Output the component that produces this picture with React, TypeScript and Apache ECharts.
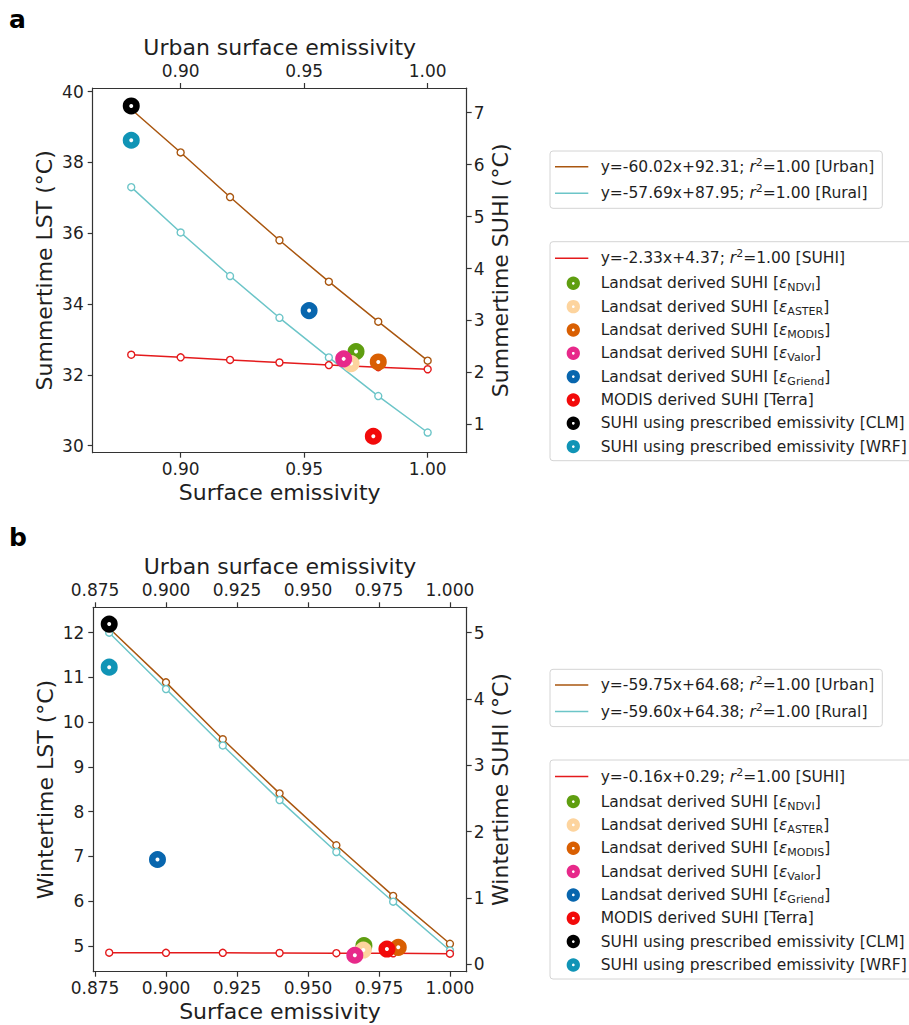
import React, { useEffect, useRef } from "react";
import * as echarts from "echarts";

const FONT = "DejaVu Sans";

// emissivity values used for the prescribed-emissivity experiments
const EMISS = [0.88, 0.9, 0.92, 0.94, 0.96, 0.98, 1.0];

// Panel a (summer)
const summerUrban = [39.5, 38.28, 37.02, 35.8, 34.63, 33.5, 32.4];
const summerRural = [37.3, 36.02, 34.79, 33.61, 32.49, 31.4, 30.37];
const summerSuhi = [2.34, 2.29, 2.24, 2.19, 2.14, 2.1, 2.06];
// [emissivity, SUHI] for each observation / model
const summerObs = [
  [0.971, 2.4],
  [0.969, 2.17],
  [0.98, 2.2],
  [0.966, 2.26],
  [0.952, 3.19],
  [0.978, 0.77],
  [0.88, 7.13],
  [0.88, 6.47],
];

// Panel b (winter)
const winterUrban = [12.1, 10.89, 9.62, 8.41, 7.25, 6.12, 5.05];
const winterRural = [12.0, 10.74, 9.48, 8.26, 7.1, 5.99, 4.9];
const winterSuhi = [0.175, 0.173, 0.172, 0.17, 0.168, 0.166, 0.16];
const winterObs = [
  [0.9697, 0.28],
  [0.9695, 0.215],
  [0.9818, 0.256],
  [0.9665, 0.136],
  [0.897, 1.58],
  [0.9778, 0.23],
  [0.88, 5.13],
  [0.88, 4.48],
];

// Tick values
const xTicksA = [0.9, 0.95, 1.0];
const xTicksB = [0.875, 0.9, 0.925, 0.95, 0.975, 1.0];
const yLeftTicksA = [30, 32, 34, 36, 38, 40];
const yRightTicksA = [1, 2, 3, 4, 5, 6, 7];
const yLeftTicksB = [5, 6, 7, 8, 9, 10, 11, 12];
const yRightTicksB = [0, 1, 2, 3, 4, 5];

// Legend texts
const obsNames = [
  "Landsat derived SUHI [{e|ε}{sub|NDVI}{n|]}",
  "Landsat derived SUHI [{e|ε}{sub|ASTER}{n|]}",
  "Landsat derived SUHI [{e|ε}{sub|MODIS}{n|]}",
  "Landsat derived SUHI [{e|ε}{sub|Valor}{n|]}",
  "Landsat derived SUHI [{e|ε}{sub|Griend}{n|]}",
  "MODIS derived SUHI [Terra]",
  "SUHI using prescribed emissivity [CLM]",
  "SUHI using prescribed emissivity [WRF]",
];
const obsColors = [
  "#5f9e10",
  "#fdd49e",
  "#d95f02",
  "#e7298a",
  "#0866ae",
  "#f20a0a",
  "#000000",
  "#1094b6",
];
const fitA = ["y=-60.02x+92.31", "y=-57.69x+87.95", "y=-2.33x+4.37"];
const fitB = ["y=-59.75x+64.68", "y=-59.60x+64.38", "y=-0.16x+0.29"];
const fitTags = ["[Urban]", "[Rural]", "[SUHI]"];

const URBAN_C = "#a9560f";
const RURAL_C = "#6cc5c8";
const SUHI_C = "#e41a1c";
const AXIS_C = "#333333";
const TEXT_C = "#1f1f1f";

function xAxis(grid: number, pos: string, min: number, max: number, ticks: number[], dec: number, name: string, gap: number, margin: number) {
  return {
    type: "value",
    gridIndex: grid,
    position: pos,
    min,
    max,
    name,
    nameLocation: "middle",
    nameGap: gap,
    nameTextStyle: { fontSize: 22, color: TEXT_C, fontFamily: FONT },
    axisLine: { show: true, onZero: false, lineStyle: { color: AXIS_C, width: 1.2 } },
    axisTick: { show: true, inside: false, length: 5, customValues: ticks, lineStyle: { color: AXIS_C, width: 1.2 } },
    axisLabel: {
      customValues: ticks,
      formatter: (v: number) => v.toFixed(dec),
      fontSize: 17,
      color: TEXT_C,
      fontFamily: FONT,
      margin,
    },
    splitLine: { show: false },
  };
}

function yAxis(grid: number, pos: string, min: number, max: number, ticks: number[], name: string, gap: number, margin: number) {
  return {
    type: "value",
    gridIndex: grid,
    position: pos,
    min,
    max,
    name,
    nameLocation: "middle",
    nameRotate: 90,
    nameGap: gap,
    nameTextStyle: { fontSize: 22, color: TEXT_C, fontFamily: FONT },
    axisLine: { show: true, onZero: false, lineStyle: { color: AXIS_C, width: 1.2 } },
    axisTick: { show: true, inside: false, length: 5, customValues: ticks, lineStyle: { color: AXIS_C, width: 1.2 } },
    axisLabel: {
      customValues: ticks,
      formatter: (v: number) => String(Math.round(v)),
      fontSize: 17,
      color: TEXT_C,
      fontFamily: FONT,
      margin,
    },
    splitLine: { show: false },
  };
}

function lineSeries(name: string, xs: number[], ys: number[], color: string, xi: number, yi: number) {
  return {
    type: "line",
    name,
    xAxisIndex: xi,
    yAxisIndex: yi,
    data: xs.map((x, i) => [x, ys[i]]),
    symbol: "circle",
    symbolSize: 7,
    showSymbol: true,
    lineStyle: { color, width: 1.5 },
    itemStyle: { color: "#ffffff", borderColor: color, borderWidth: 1.4, opacity: 1 },
    z: 2,
  };
}

function obsSeries(obs: number[][], xi: number, yi: number) {
  return obs.map((p, i) => ({
    type: "scatter",
    name: "obs" + i,
    xAxisIndex: xi,
    yAxisIndex: yi,
    data: [p],
    symbol: "circle",
    symbolSize: 10.5,
    itemStyle: { color: "#ffffff", borderColor: obsColors[i], borderWidth: 6.5, opacity: 1 },
    z: 3 + i,
  }));
}

const RICH = {
  n: { fontSize: 15.5, fontFamily: FONT, lineHeight: 20, fill: TEXT_C },
  i: { fontSize: 15.5, fontFamily: FONT, fontStyle: "italic", lineHeight: 20, fill: TEXT_C },
  e: { fontSize: 15.5, fontFamily: FONT, fontStyle: "italic", lineHeight: 20, fill: TEXT_C },
  sup: { fontSize: 11, fontFamily: FONT, lineHeight: 11, verticalAlign: "top", fill: TEXT_C },
  sub: { fontSize: 11, fontFamily: FONT, lineHeight: 11, verticalAlign: "bottom", fill: TEXT_C },
};

function richify(s: string) {
  const parts = s.split(/(\{[a-z]+\|[^}]*\})/);
  return parts
    .filter((p) => p.length > 0)
    .map((p) => (p.startsWith("{") ? p : "{n|" + p + "}"))
    .join("");
}

function legendText(x: number, y: number, s: string) {
  return {
    type: "text",
    x,
    y,
    style: {
      text: richify(s),
      rich: RICH,
      fontSize: 15.5,
      fontFamily: FONT,
      fill: TEXT_C,
      verticalAlign: "middle",
      align: "left",
    },
    z: 20,
  };
}

function legendGraphics(dy: number, fits: string[]) {
  const els: any[] = [];
  const LX = 550;
  const TX = 600.7;
  els.push({
    type: "rect",
    shape: { x: LX, y: 151 + dy, width: 332.3, height: 57.3, r: 3 },
    style: { fill: "#ffffff", stroke: "#d4d4d4", lineWidth: 1 },
    z: 10,
  });
  const rows1 = [166.7, 193.3];
  [URBAN_C, RURAL_C].forEach((c, k) => {
    const y = rows1[k] + dy;
    els.push({ type: "line", shape: { x1: 555, y1: y, x2: 588.3, y2: y }, style: { stroke: c, lineWidth: 1.5 }, z: 20 });
    els.push(legendText(TX, y, fits[k] + "; {i|r}{sup|2}=1.00 " + fitTags[k]));
  });
  els.push({
    type: "rect",
    shape: { x: LX, y: 241.7 + dy, width: 380, height: 219, r: 3 },
    style: { fill: "#ffffff", stroke: "#d4d4d4", lineWidth: 1 },
    z: 10,
  });
  const y0 = 258.3 + dy;
  els.push({ type: "line", shape: { x1: 555, y1: y0, x2: 588.3, y2: y0 }, style: { stroke: SUHI_C, lineWidth: 1.5 }, z: 20 });
  els.push(legendText(TX, y0, fits[2] + "; {i|r}{sup|2}=1.00 " + fitTags[2]));
  obsNames.forEach((nm, k) => {
    const y = 283.3 + 23.33 * k + dy;
    els.push({
      type: "circle",
      shape: { cx: 573.3, cy: y, r: 4 },
      style: { fill: "#ffffff", stroke: obsColors[k], lineWidth: 5.3 },
      z: 20,
    });
    els.push(legendText(TX, y, nm));
  });
  return els;
}

export default function App() {
  const ref = useRef<HTMLDivElement>(null);
  useEffect(() => {
    if (!ref.current) return;
    const chart = echarts.init(ref.current, undefined, { renderer: "svg" });
    const option: any = {
      animation: false,
      backgroundColor: "#ffffff",
      textStyle: { fontFamily: FONT },
      grid: [
        { left: 92.7, top: 88, width: 374, height: 364.7, containLabel: false },
        { left: 93.3, top: 607.3, width: 373.4, height: 364.4, containLabel: false },
      ],
      xAxis: [
        xAxis(0, "bottom", 0.8644, 1.0158, xTicksA, 2, "Surface emissivity", 29, 8),
        xAxis(0, "top", 0.8644, 1.0158, xTicksA, 2, "Urban surface emissivity", 30, 9),
        xAxis(1, "bottom", 0.8744, 1.0059, xTicksB, 3, "Surface emissivity", 29, 8),
        xAxis(1, "top", 0.8744, 1.0059, xTicksB, 3, "Urban surface emissivity", 30, 9),
      ],
      yAxis: [
        yAxis(0, "left", 29.8, 40.1, yLeftTicksA, "Summertime LST (°C)", 37, 9),
        yAxis(0, "right", 0.453, 7.476, yRightTicksA, "Summertime SUHI (°C)", 23, 7),
        yAxis(1, "left", 4.426, 12.567, yLeftTicksB, "Wintertime LST (°C)", 37, 9),
        yAxis(1, "right", -0.112, 5.383, yRightTicksB, "Wintertime SUHI (°C)", 23, 7),
      ],
      series: [
        lineSeries("urbanA", EMISS, summerUrban, URBAN_C, 0, 0),
        lineSeries("ruralA", EMISS, summerRural, RURAL_C, 0, 0),
        lineSeries("suhiA", EMISS, summerSuhi, SUHI_C, 0, 1),
        ...obsSeries(summerObs, 0, 1),
        lineSeries("urbanB", EMISS, winterUrban, URBAN_C, 2, 2),
        lineSeries("ruralB", EMISS, winterRural, RURAL_C, 2, 2),
        lineSeries("suhiB", EMISS, winterSuhi, SUHI_C, 2, 3),
        ...obsSeries(winterObs, 2, 3),
      ],
      graphic: [
        {
          type: "text",
          x: 9,
          y: 19,
          style: { text: "a", fontSize: 25, fontWeight: "bold", fontFamily: FONT, fill: "#000", verticalAlign: "middle" },
        },
        {
          type: "text",
          x: 9,
          y: 537,
          style: { text: "b", fontSize: 25, fontWeight: "bold", fontFamily: FONT, fill: "#000", verticalAlign: "middle" },
        },
        ...legendGraphics(0, fitA),
        ...legendGraphics(518.3, fitB),
      ],
    };
    chart.setOption(option);
    return () => chart.dispose();
  }, []);
  return <div ref={ref} style={{ position: "absolute", left: 0, top: 0, width: 909, height: 1025 }} />;
}
